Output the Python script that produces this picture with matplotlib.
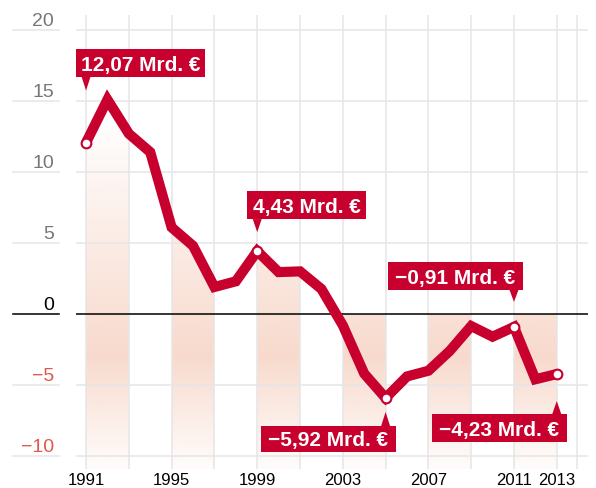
import numpy as np
import matplotlib
matplotlib.use("Agg")
import matplotlib.pyplot as plt
import matplotlib.transforms as mtransforms
from matplotlib.patches import Polygon, Rectangle

plt.rcParams["font.family"] = ["Liberation Sans", "DejaVu Sans"]

# Finanzierungssaldo in Mrd. Euro
years = np.arange(1991, 2014)
saldo = [12.07, 15.1, 12.7, 11.4, 6.1, 4.8, 1.9, 2.3, 4.43, 2.95, 3.0, 1.76,
         -0.8, -4.2, -5.92, -4.4, -4.0, -2.6, -0.85, -1.6, -0.91, -4.6, -4.23]

y_ticks = [20, 15, 10, 5, 0, -5, -10]
y_tick_labels = ["20", "15", "10", "5", "0", "\u22125", "\u221210"]
x_ticks = [1991, 1995, 1999, 2003, 2007, 2011, 2013]
band_starts = [1991, 1995, 1999, 2003, 2007, 2011]
marked_years = [1991, 1999, 2005, 2011, 2013]
callout_years = [1991, 1999, 2011, 2005, 2013]
callout_texts = ["12,07 Mrd. \u20ac", "4,43 Mrd. \u20ac", "\u22120,91 Mrd. \u20ac",
                 "\u22125,92 Mrd. \u20ac", "\u22124,23 Mrd. \u20ac"]

RED = "#c8002e"
GRID = "#e6e6e6"
DPI = 100
W, H = 596, 489

fig = plt.figure(figsize=(W / DPI, H / DPI), dpi=DPI)
ax = fig.add_axes([76 / W, (H - 470) / H, 512 / W, 454 / H])
x0, x1 = 1990.53, 2014.46
y0, y1 = -10.92, 21.06

vals = np.array(saldo)
year_list = list(years)

# shaded bands with vertical gradient
ys = np.linspace(y0, 14, 300)
alpha = np.where(ys > -3, 1 - (ys + 3) / 17.0, 1 - (-3 - ys) / 8.5).clip(0, 1)
grad = np.zeros((300, 1, 4))
grad[..., 0] = 248 / 255
grad[..., 1] = 218 / 255
grad[..., 2] = 205 / 255
grad[..., 3] = alpha[:, None]
for s in band_starts:
    idx = [year_list.index(s + k) for k in range(3)]
    xs = years[idx]
    tops = np.maximum(vals[idx], 0)
    verts = [(xs[0], y0)] + list(zip(xs, tops)) + [(xs[-1], y0)]
    poly = Polygon(verts, closed=True, fc="none", ec="none", transform=ax.transData)
    im = ax.imshow(grad, extent=(s, s + 2, y0, 14), origin="lower", aspect="auto",
                   interpolation="bilinear", zorder=0.5)
    im.set_clip_path(poly)

ax.set_xlim(x0, x1)
ax.set_ylim(y0, y1)

# grid
for xv in list(range(1991, 2014, 2)) + [2013.95]:
    ax.axvline(xv, color=GRID, lw=1.1, zorder=1)

blend = mtransforms.blended_transform_factory(ax.transAxes, ax.transData)
label_trans = mtransforms.offset_copy(blend, fig, y=5, units="dots")
for yv, lab in zip(y_ticks, y_tick_labels):
    col = "black" if yv == 0 else GRID
    ax.axhline(yv, color=col, lw=1.1, zorder=2 if yv == 0 else 1)
    ax.plot([-0.123, -0.033], [yv, yv], color=col, lw=1.1, transform=blend, clip_on=False)
    if yv == 0:
        tc = "black"
    elif yv > 0:
        tc = "#777777"
    else:
        tc = "#e0584e"
    ax.text(-0.043, yv, lab, transform=label_trans, ha="right", va="baseline",
            fontsize=14, color=tc)

# line and markers
ax.plot(years, saldo, color=RED, lw=7.3, solid_joinstyle="miter",
        solid_capstyle="butt", zorder=4)
mk = [year_list.index(y) for y in marked_years]
ax.plot(years[mk], vals[mk], "o", ms=7, mfc="white", mec=RED, mew=1.5, zorder=5)

# callouts: box (left, right, bottom, top) and pointer, in pixels around the point
boxes = [(-10, 119, 66, 94), (-10, 109, 32, 60), (-126, 9, 37, 65),
         (-125, 10, -54, -28), (-125, 10, -68, -40)]
tips = [52, 19, 25, -14, -27]
for yr, txt, (l, r, b, t), tip in zip(callout_years, callout_texts, boxes, tips):
    v = vals[year_list.index(yr)]
    tr = (mtransforms.Affine2D().scale(1 / DPI) + fig.dpi_scale_trans
          + mtransforms.ScaledTranslation(yr, v, ax.transData))
    ax.add_patch(Rectangle((l, b), r - l, t - b, fc=RED, ec="none",
                           transform=tr, clip_on=False, zorder=6))
    base = b if tip > 0 else t
    ax.add_patch(Polygon([(-4.5, base), (4.5, base), (0, tip)], closed=True,
                         fc=RED, ec="none", transform=tr, clip_on=False, zorder=6))
    ax.text((l + r) / 2, b + 7, txt, transform=tr, ha="center", va="baseline",
            color="white", fontsize=15, fontweight="bold", zorder=7)

ax.set_xticks(x_ticks)
ax.set_xticklabels([str(x) for x in x_ticks], fontsize=12, color="black")
ax.set_yticks([])
ax.tick_params(axis="x", length=0, pad=2)
for sp in ax.spines.values():
    sp.set_visible(False)

fig.savefig("out.png", dpi=DPI, facecolor="white")
